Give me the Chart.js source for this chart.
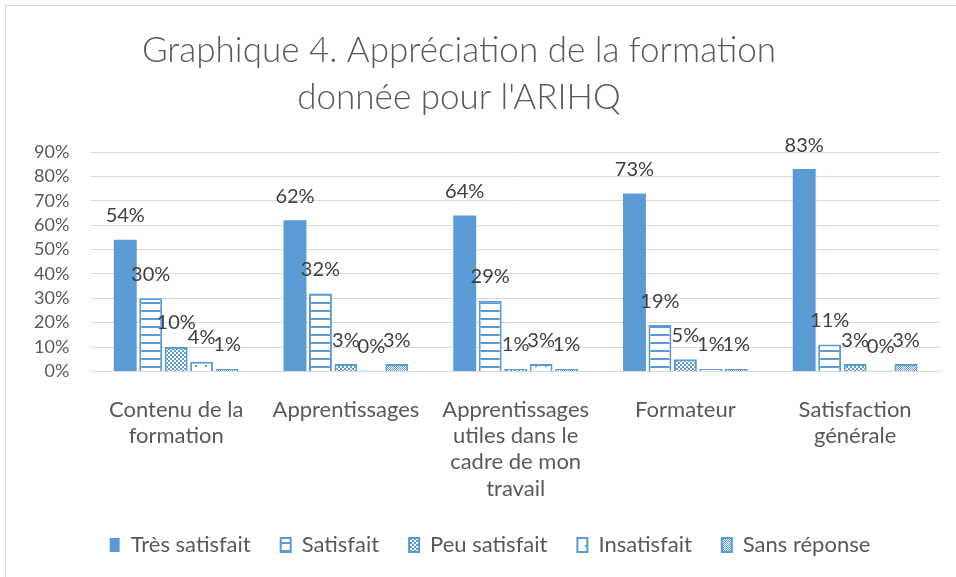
<!DOCTYPE html>
<html>
<head>
<meta charset="utf-8">
<script src="https://cdn.jsdelivr.net/npm/chart.js@4/dist/chart.umd.min.js"></script>
<style>
  html, body { margin: 0; padding: 0; background: #fff; }
  #wrap { position: relative; width: 956px; height: 577px; overflow: hidden; }
  #frame { position: absolute; left: 5px; top: 5px; width: 1000px; height: 1000px; border: 1px solid #d9d9d9; }
  canvas { position: absolute; left: 0; top: 0; }
</style>
</head>
<body>
<div id="wrap">
  <div id="frame"></div>
  <canvas id="chart" width="956" height="577"></canvas>
</div>
<script>
// Données du graphique
const titleLines = ['Graphique 4. Appréciation de la formation', "donnée pour l'ARIHQ"];
const categories = [
    ['Contenu de la', 'formation'],
    ['Apprentissages'],
    ['Apprentissages', 'utiles dans le', 'cadre de mon', 'travail'],
    ['Formateur'],
    ['Satisfaction', 'générale']
];
const seriesNames = ['Très satisfait', 'Satisfait', 'Peu satisfait', 'Insatisfait', 'Sans réponse'];
const tresSatisfait = [54, 62, 64, 73, 83];
const satisfait = [30, 32, 29, 19, 11];
const peuSatisfait = [10, 3, 1, 5, 3];
const insatisfait = [4, 0, 3, 1, 0];
const sansReponse = [1, 3, 1, 1, 3];

const BLUE = '#5B9BD5';
const FONT = 'Lato, "Liberation Sans", sans-serif';

// Motifs de remplissage (style Excel)
function makePattern(kind) {
    const c = document.createElement('canvas');
    const x = c.getContext('2d');
    if (kind === 'lines') {
        c.width = 8; c.height = 8;
        x.fillStyle = '#fff'; x.fillRect(0, 0, 8, 8);
        x.fillStyle = BLUE; x.fillRect(0, 6, 8, 2);
    } else if (kind === 'checker') {
        c.width = 4; c.height = 4;
        x.fillStyle = '#fff'; x.fillRect(0, 0, 4, 4);
        x.fillStyle = BLUE;
        x.fillRect(0, 0, 2, 2); x.fillRect(2, 2, 2, 2);
    } else if (kind === 'dots') {
        c.width = 10; c.height = 10;
        x.fillStyle = '#fff'; x.fillRect(0, 0, 10, 10);
        x.fillStyle = BLUE; x.fillRect(5, 5, 2, 2);
    } else {
        c.width = 2; c.height = 2;
        x.fillStyle = '#fff'; x.fillRect(0, 0, 2, 2);
        x.fillStyle = BLUE;
        x.fillRect(0, 0, 1, 1); x.fillRect(1, 1, 1, 1);
    }
    return x.createPattern(c, 'repeat');
}

// Titre (centré sur le cadre Excel)
const titlePlugin = {
    id: 'excelTitle',
    afterLayout(chart) {
        // la légende Excel est un peu décalée vers la droite
        chart.legend.left += 14;
        chart.legend.right += 14;
    },
    afterDraw(chart) {
        const ctx = chart.ctx;
        ctx.save();
        ctx.font = '300 35px ' + FONT;
        ctx.fillStyle = '#595959';
        ctx.textAlign = 'center';
        ctx.textBaseline = 'middle';
        ctx.fillText(titleLines[0], 459, 51);
        ctx.fillText(titleLines[1], 459, 98);
        ctx.restore();
    }
};

// Étiquettes de données au-dessus des barres
const labelPlugin = {
    id: 'barLabels',
    afterDatasetsDraw(chart) {
        const ctx = chart.ctx;
        ctx.save();
        ctx.font = '20px ' + FONT;
        ctx.fillStyle = '#404040';
        ctx.textAlign = 'center';
        ctx.textBaseline = 'middle';
        chart.data.datasets.forEach((ds, i) => {
            chart.getDatasetMeta(i).data.forEach((bar, j) => {
                ctx.fillText(ds.data[j] + '%', bar.x, bar.y - 24);
            });
        });
        ctx.restore();
    }
};

const fills = [BLUE, makePattern('lines'), makePattern('checker'), makePattern('dots'), makePattern('fine')];
const values = [tresSatisfait, satisfait, peuSatisfait, insatisfait, sansReponse];

const ctx = document.getElementById('chart').getContext('2d');
new Chart(ctx, {
    type: 'bar',
    data: {
        labels: categories,
        datasets: seriesNames.map((name, i) => ({
            label: name,
            data: values[i],
            backgroundColor: fills[i],
            borderColor: BLUE,
            borderWidth: i === 0 ? 0 : 2,
            categoryPercentage: 0.75,
            barPercentage: 0.9,
            minBarLength: 1
        }))
    },
    options: {
        responsive: false,
        animation: false,
        layout: { padding: { top: 152, left: 12, right: 16, bottom: 11 } },
        scales: {
            y: {
                min: 0, max: 90,
                ticks: { stepSize: 10, autoSkip: false, callback: v => v + '%', color: '#595959', font: { family: FONT, size: 18 }, padding: 22 },
                grid: { color: '#d9d9d9', lineWidth: 1, drawTicks: false },
                border: { display: false }
            },
            x: {
                ticks: { color: '#595959', font: { family: FONT, size: 22, lineHeight: 1.2 }, padding: 17, maxRotation: 0, autoSkip: false },
                grid: { display: false },
                border: { display: true, color: '#d9d9d9' },
                afterFit: (scale) => { scale.height -= 15; }
            }
        },
        plugins: {
            legend: {
                position: 'bottom',
                labels: { boxWidth: 10, boxHeight: 14, padding: 30, color: '#595959', font: { family: FONT, size: 22 } }
            },
            tooltip: { enabled: false },
            title: { display: false }
        }
    },
    plugins: [titlePlugin, labelPlugin]
});
</script>
</body>
</html>
